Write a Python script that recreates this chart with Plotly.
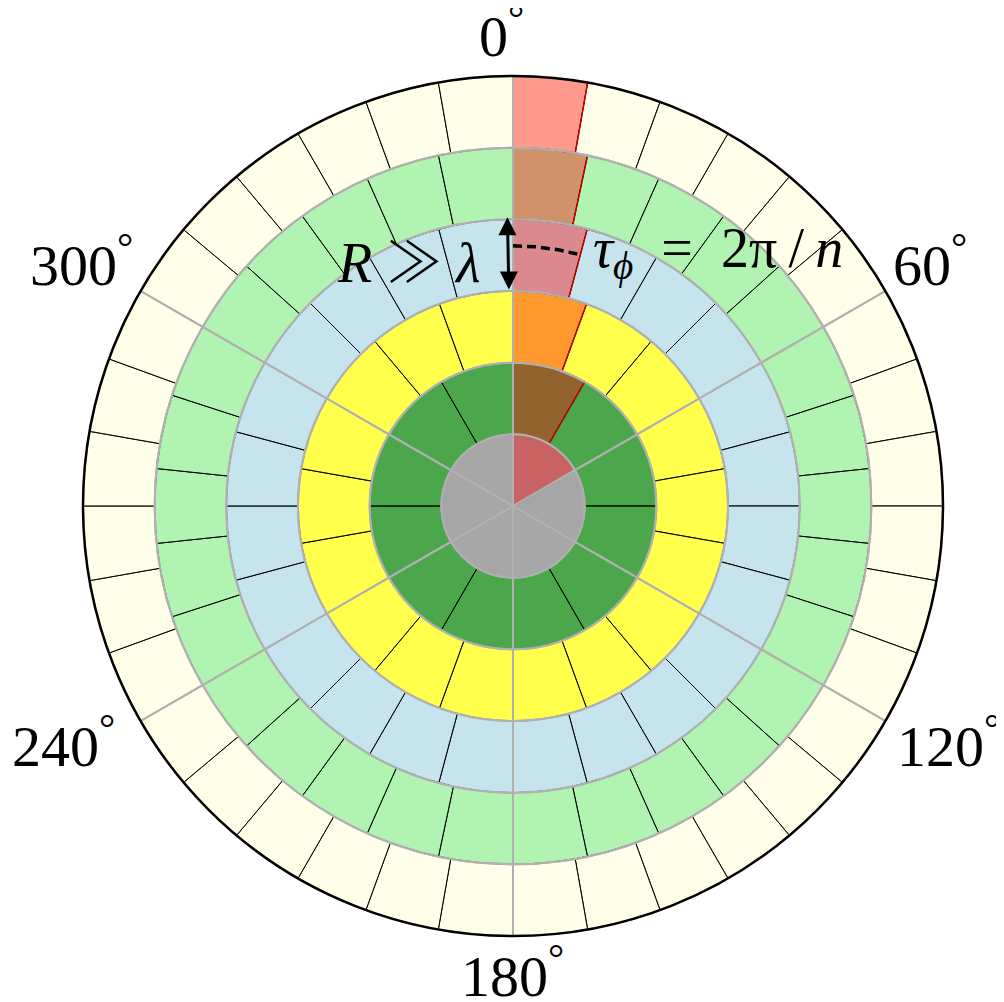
import plotly.graph_objects as go

# ---- data ----
ring_sectors = [6, 12, 18, 24, 30, 36]           # sectors per ring (inner -> outer)
ring_colors = [
    "rgba(128,128,128,0.7)",   # gray
    "rgba(0,128,0,0.7)",       # green
    "rgba(255,255,0,0.7)",     # yellow
    "rgba(173,216,230,0.7)",   # lightblue
    "rgba(144,238,144,0.7)",   # lightgreen
    "rgba(255,255,224,0.7)",   # lightyellow
]
highlight_sector = [0, 0, 0, 0, 0, 0]            # highlighted sector index per ring
highlight_fill = "rgba(255,0,0,0.4)"
highlight_edge = "#c00000"
grid_angles = [0, 60, 120, 180, 240, 300]
tick_labels = ["0<sup>°</sup>", "60<sup>°</sup>", "120<sup>°</sup>",
               "180<sup>°</sup>", "240<sup>°</sup>", "300<sup>°</sup>"]
arrow_theta = 358.9
arrow_r = [3.02, 4.03]
arrow_shaft_r = [3.15, 3.9]
arc_r = 3.63
arc_theta = [0, 5, 10, 15]

FONT = "Liberation Serif"

fig = go.Figure()

# rings of sectors
for k, n in enumerate(ring_sectors):
    w = 360.0 / n
    fig.add_trace(go.Barpolar(
        r=[1] * n, base=[k] * n,
        theta=[(i + 0.5) * w for i in range(n)], width=[w] * n,
        marker=dict(color=ring_colors[k], line=dict(color="black", width=1)),
        hoverinfo="skip", showlegend=False))

# highlighted sectors
hl_theta, hl_width, hl_base = [], [], []
for k, n in enumerate(ring_sectors):
    w = 360.0 / n
    hl_theta.append((highlight_sector[k] + 0.5) * w)
    hl_width.append(w)
    hl_base.append(k)
fig.add_trace(go.Barpolar(
    r=[1] * len(ring_sectors), base=hl_base, theta=hl_theta, width=hl_width,
    marker=dict(color=highlight_fill, line=dict(color=highlight_edge, width=1.5)),
    hoverinfo="skip", showlegend=False))

# gray grid: ring boundaries and 60-degree spokes
g_theta, g_base = [], []
for k in range(len(ring_sectors)):
    for a in grid_angles:
        g_theta.append(a + 30)
        g_base.append(k)
fig.add_trace(go.Barpolar(
    r=[1] * len(g_theta), base=g_base, theta=g_theta, width=[60] * len(g_theta),
    marker=dict(color="rgba(0,0,0,0)", line=dict(color="#b0b0b0", width=2)),
    hoverinfo="skip", showlegend=False))

# double arrow (R >> lambda)
fig.add_trace(go.Scatterpolar(
    r=arrow_shaft_r, theta=[arrow_theta] * 2, mode="lines",
    line=dict(color="black", width=3), hoverinfo="skip", showlegend=False))
fig.add_trace(go.Scatterpolar(
    r=arrow_r, theta=[arrow_theta] * 2, mode="markers",
    marker=dict(symbol=["arrow-down", "arrow-up"], size=18, color="black"),
    hoverinfo="skip", showlegend=False))

# dashed arc (tau_phi)
fig.add_trace(go.Scatterpolar(
    r=[arc_r] * len(arc_theta), theta=arc_theta, mode="lines",
    line=dict(color="black", width=3.5, dash="9px,5px"),
    hoverinfo="skip", showlegend=False))

W, H = 1004, 1002
ML, MT = 75, 68
PW = PH = 860
MR, MB = W - ML - PW, H - MT - PH
OFF = 8  # page body margin


def px(x):
    return (x - OFF - ML) / PW


def py(y):
    return 1 - (y - OFF - MT) / PH


# angular tick labels, placed as annotations (screen pixel centres)
label_pos = {0: (501, 32), 60: (930, 262), 120: (948, 742),
             180: (512, 972), 240: (63, 742), 300: (81, 262)}
annotations = []
for a, txt in zip(grid_angles, tick_labels):
    x, y = label_pos[a]
    annotations.append(dict(text=txt, xref="paper", yref="paper",
                            x=px(x), y=py(y), xanchor="center", yanchor="middle",
                            showarrow=False,
                            font=dict(family=FONT, size=58, color="black")))

annotations += [
    dict(text="<i>R</i> <span style=\"font-family:'Noto Sans CJK JP';font-weight:300\">≫</span> <i>λ</i>",
         xref="paper", yref="paper",
         x=px(408), y=py(258), xanchor="center", yanchor="middle",
         showarrow=False, font=dict(family=FONT, size=56, color="black")),
    dict(text="<i>τ</i><sub><i>ϕ</i></sub>  =  2π\u2009/\u2009<i>n</i>",
         xref="paper", yref="paper",
         x=px(591), y=py(252), xanchor="left", yanchor="middle",
         showarrow=False, font=dict(family=FONT, size=56, color="black")),
]

fig.update_layout(
    width=W, height=H,
    margin=dict(l=ML, r=MR, t=MT, b=MB),
    paper_bgcolor="white",
    showlegend=False,
    polar=dict(
        domain=dict(x=[0, 1], y=[0, 1]),
        bgcolor="white",
        barmode="overlay",
        bargap=0,
        hole=0,
        angularaxis=dict(
            rotation=90, direction="clockwise",
            tickmode="array", tickvals=grid_angles,
            showticklabels=False,
            showgrid=False, ticks="",
            showline=True, linecolor="black", linewidth=2.5,
            layer="above traces"),
        radialaxis=dict(range=[0, 6], visible=False, showgrid=False),
    ),
    annotations=annotations,
)

fig.write_html("out.html")
